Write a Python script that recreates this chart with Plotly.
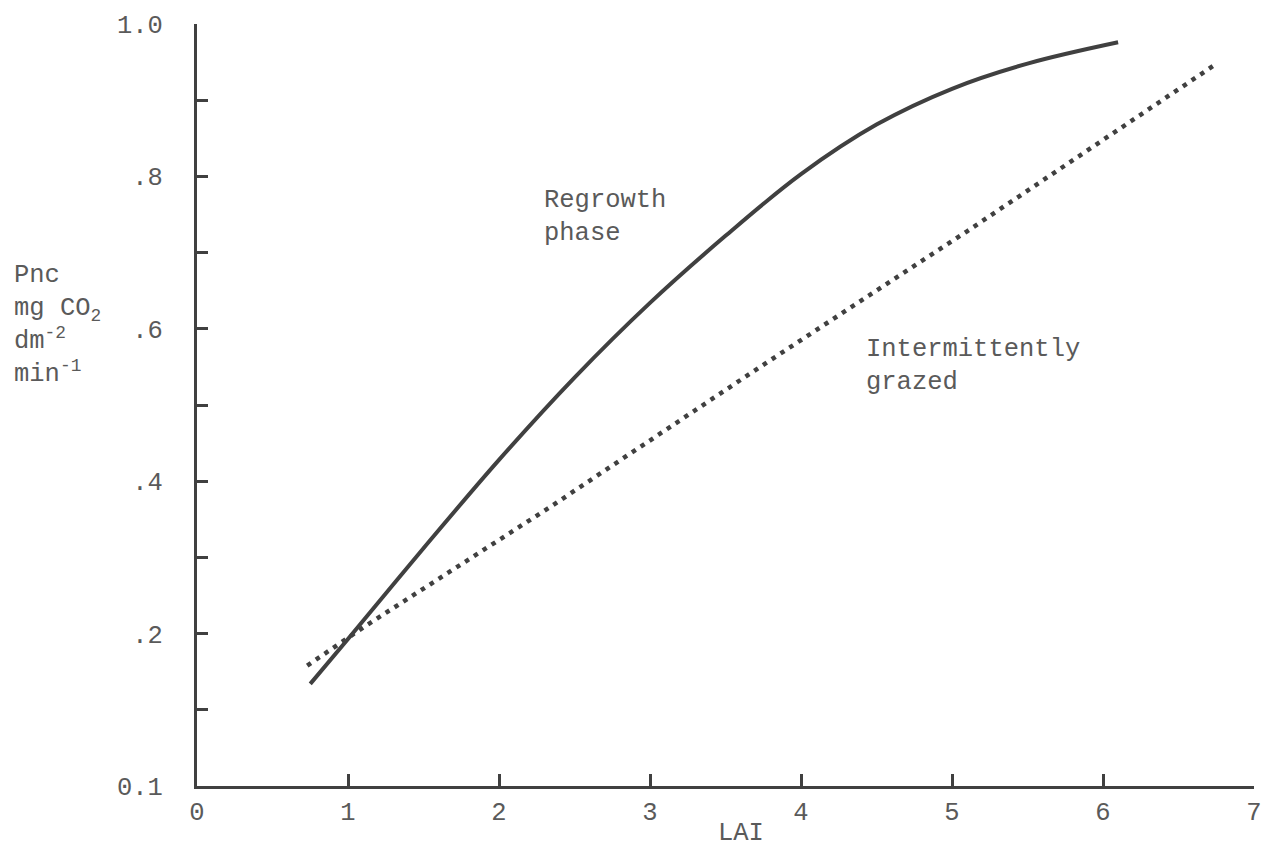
import plotly.graph_objects as go

# Regrowth phase (solid curve)
lai_regrowth = [0.75, 1.0, 1.5, 2.0, 2.5, 3.0, 3.5, 4.0, 4.5, 5.0, 5.5, 6.1]
pnc_regrowth = [0.134, 0.193, 0.312, 0.428, 0.536, 0.634, 0.722, 0.803, 0.868, 0.915, 0.948, 0.976]

# Intermittently grazed (dotted line)
lai_grazed = [0.73, 1.10, 2.33, 3.76, 5.10, 6.73]
pnc_grazed = [0.158, 0.208, 0.365, 0.554, 0.728, 0.945]

x_tickvals = [0, 1, 2, 3, 4, 5, 6, 7]
x_ticktext = ["0", "1", "2", "3", "4", "5", "6", "7"]
y_tickvals = [0.0, 0.1, 0.2, 0.3, 0.4, 0.5, 0.6, 0.7, 0.8, 0.9, 1.0]
y_ticktext = ["0.1", "", ".2", "", ".4", "", ".6", "", ".8", "", "1.0"]

FONT = "Liberation Mono, Courier New, monospace"
TEXT_COLOR = "#5a5a5a"
INK = "#404040"
FS = 25.5

fig = go.Figure()
fig.add_trace(go.Scatter(
    x=lai_regrowth, y=pnc_regrowth, mode="lines", name="Regrowth phase",
    line=dict(color=INK, width=4, shape="spline", smoothing=1.0),
))
fig.add_trace(go.Scatter(
    x=lai_grazed, y=pnc_grazed, mode="lines", name="Intermittently grazed",
    line=dict(color=INK, width=4.5, dash="4.5px,6px"),
))

fig.update_layout(
    width=1275, height=849,
    margin=dict(l=197, r=21, t=21, b=63),
    paper_bgcolor="white", plot_bgcolor="white",
    showlegend=False,
    font=dict(family=FONT, size=FS, color=TEXT_COLOR),
    xaxis=dict(
        range=[0, 7], showline=True, linecolor=INK, linewidth=3,
        ticks="inside", ticklen=12, tickwidth=3, tickcolor=INK,
        tickvals=x_tickvals, ticktext=x_ticktext,
        tickfont=dict(family=FONT, size=FS, color=TEXT_COLOR),
        ticklabelstandoff=0,
        showgrid=False, zeroline=False,
    ),
    yaxis=dict(
        range=[0, 1.0], showline=True, linecolor=INK, linewidth=3,
        ticks="inside", ticklen=11, tickwidth=3, tickcolor=INK,
        tickvals=y_tickvals, ticktext=y_ticktext,
        tickfont=dict(family=FONT, size=FS, color=TEXT_COLOR),
        ticklabelstandoff=26,
        showgrid=False, zeroline=False,
    ),
    annotations=[
        dict(text="Regrowth<br>phase", x=2.285, y=0.790, xref="x", yref="y",
             xanchor="left", yanchor="top", align="left", showarrow=False),
        dict(text="Intermittently<br>grazed", x=4.42, y=0.594, xref="x", yref="y",
             xanchor="left", yanchor="top", align="left", showarrow=False),
        dict(text="Pnc<br>mg CO<sub>2</sub><br>dm<sup>-2</sup><br>min<sup>-1</sup>",
             x=-0.175, y=0.692, xref="paper", yref="paper",
             xanchor="left", yanchor="top", align="left", showarrow=False),
        dict(text="LAI", x=3.6, y=-0.062, xref="x", yref="paper",
             xanchor="center", yanchor="middle", showarrow=False),
    ],
)

fig.write_html("out.html")
